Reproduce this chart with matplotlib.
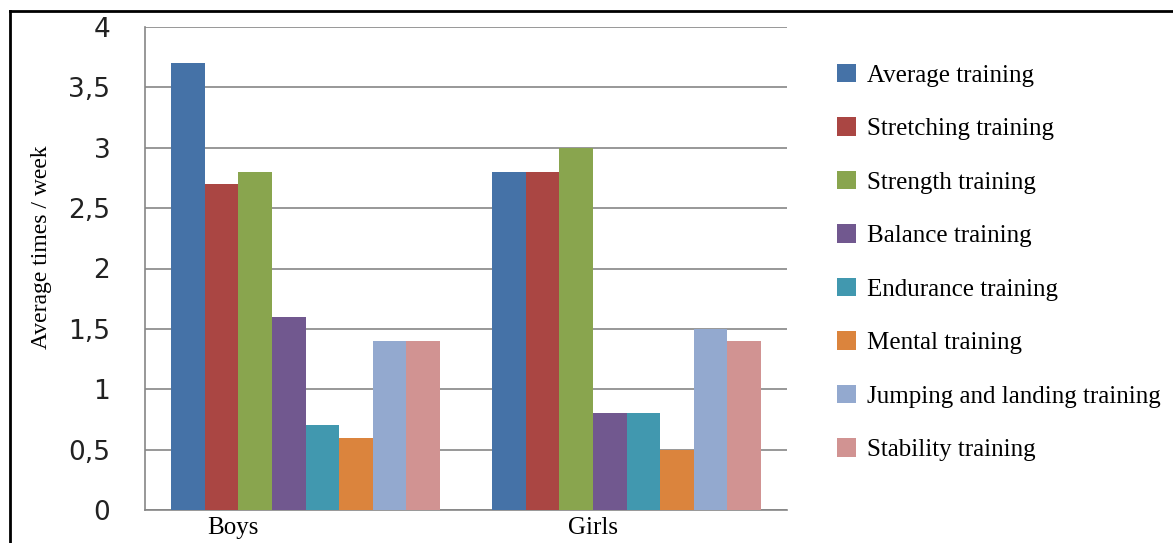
import numpy as np
import matplotlib.pyplot as plt
from matplotlib.lines import Line2D

groups = ["Boys", "Girls"]
trainings = [
    "Average training",
    "Stretching training",
    "Strength training",
    "Balance training",
    "Endurance training",
    "Mental training",
    "Jumping and landing training",
    "Stability training",
]
boys = [3.7, 2.7, 2.8, 1.6, 0.7, 0.6, 1.4, 1.4]
girls = [2.8, 2.8, 3.0, 0.8, 0.8, 0.5, 1.5, 1.4]
colors = ["#4572A7", "#AA4643", "#89A54E", "#71588F",
          "#4198AF", "#DB843D", "#93A9CF", "#D19392"]
yticks = [0, 0.5, 1, 1.5, 2, 2.5, 3, 3.5, 4]
ytick_labels = ["0", "0,5", "1", "1,5", "2", "2,5", "3", "3,5", "4"]

W, H = 1173, 543
fig = plt.figure(figsize=(W / 100, H / 100), dpi=100)
ax = fig.add_axes([145 / W, 1 - 510 / H, (787 - 145) / W, (510 - 27) / H])

x = np.arange(len(groups))
group_width = 0.835
bar_w = group_width / len(trainings)
handles = []
for i, name in enumerate(trainings):
    vals = [boys[i], girls[i]]
    pos = x - group_width / 2 + bar_w * (i + 0.5)
    b = ax.bar(pos, vals, width=bar_w, color=colors[i], label=name, zorder=3)
    handles.append(b)

ax.set_xlim(-0.5, 1.5)
ax.set_ylim(0, 4)
ax.set_yticks(yticks)
ax.set_yticklabels(ytick_labels, fontsize=19, color="#222222")
# category names sit a little left of their bar groups
ax.set_xticks(x + np.array([-0.227, -0.103]))
ax.set_xticklabels(groups, fontsize=18, family="Liberation Serif")
ax.tick_params(axis="y", length=0, pad=25)
ax.tick_params(axis="x", length=0, pad=5)
ax.grid(axis="y", color="#868686", linewidth=1.2, zorder=0)

for s in ["top", "right"]:
    ax.spines[s].set_visible(False)
for s in ["left", "bottom"]:
    ax.spines[s].set_color("#868686")
    ax.spines[s].set_linewidth(1.2)

ax.set_ylabel("Average times / week", fontsize=17, family="Liberation Serif")
ax.yaxis.set_label_coords(-0.145, 0.545)

fig.legend(handles=handles, labels=trainings, loc="upper left",
           bbox_to_anchor=(837 / W, 1 - 64 / H), frameon=False,
           prop={"family": "Liberation Serif", "size": 18},
           handlelength=0.76, handleheight=0.76, handletextpad=0.45,
           labelspacing=1.22, borderpad=0, borderaxespad=0)

# frame lines along the top and left edge
fig.add_artist(Line2D([10 / W, 1.0], [1 - 11 / H, 1 - 11 / H],
                      transform=fig.transFigure, color="black", linewidth=2))
fig.add_artist(Line2D([10 / W, 10 / W], [0, 1 - 11 / H],
                      transform=fig.transFigure, color="black", linewidth=2))

fig.savefig("out.png", dpi=100)
